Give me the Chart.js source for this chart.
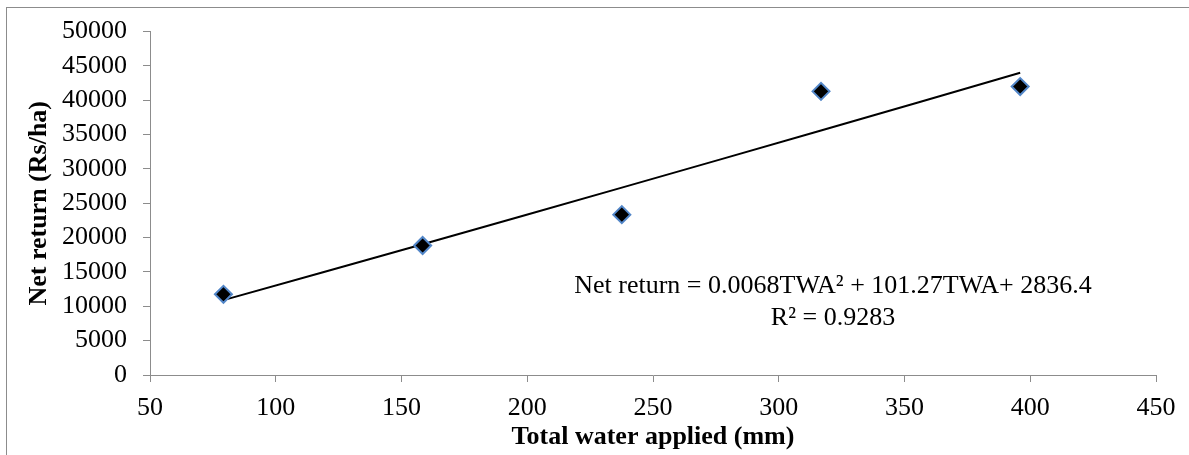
<!DOCTYPE html>
<html>
<head>
<meta charset="utf-8">
<script src="https://cdn.jsdelivr.net/npm/chart.js@4.4.0/dist/chart.umd.min.js"></script>
<style>
  html, body { margin: 0; padding: 0; background: #fff; }
  #wrap { position: relative; width: 1189px; height: 455px; overflow: hidden; }
  #frame { position: absolute; left: 6px; top: 7px; width: 1300px; height: 600px; border: 1px solid #8c8c8c; box-sizing: border-box; }
  canvas { position: absolute; left: 0; top: 0; }
</style>
</head>
<body>
<div id="wrap">
  <div id="frame"></div>
  <canvas id="scatterChart" width="1189" height="455"></canvas>
</div>
<script>
const waterApplied = [79.2, 158.4, 237.6, 316.8, 396];
const netReturn = [11750, 18850, 23350, 41300, 42000];
// polynomial trendline
const trendX = [79.2, 158.4, 237.6, 316.8, 396];
const trendY = [10900, 19050, 27280, 35600, 44000];
const xTicks = [50, 100, 150, 200, 250, 300, 350, 400, 450];
const yTicks = [0, 5000, 10000, 15000, 20000, 25000, 30000, 35000, 40000, 45000, 50000];

const FONT = "'Liberation Serif', 'Times New Roman', serif";
const FS = 26;
const axisGrey = "#8c8c8c";

const equationLabel = {
  id: "equationLabel",
  afterDraw(chart) {
    const ctx = chart.ctx;
    ctx.save();
    ctx.fillStyle = "#000";
    ctx.font = FS + "px " + FONT;
    ctx.textAlign = "center";
    ctx.textBaseline = "alphabetic";
    ctx.fillText("Net return = 0.0068TWA\u00B2 + 101.27TWA+ 2836.4", 833, 293);
    ctx.fillText("R\u00B2 = 0.9283", 833, 325);
    ctx.restore();
  }
};

const ctx = document.getElementById("scatterChart").getContext("2d");
new Chart(ctx, {
  type: "scatter",
  data: {
    datasets: [
      {
        label: "Trend",
        type: "line",
        data: trendX.map((x, i) => ({ x: x, y: trendY[i] })),
        borderColor: "#000",
        borderWidth: 2,
        pointRadius: 0,
        tension: 0.4,
        fill: false,
        order: 2
      },
      {
        label: "Net return",
        data: waterApplied.map((x, i) => ({ x: x, y: netReturn[i] })),
        pointStyle: "rectRot",
        pointRadius: 8.5,
        backgroundColor: "#000",
        borderColor: "#5286c8",
        borderWidth: 2,
        order: 1
      }
    ]
  },
  options: {
    responsive: false,
    animation: false,
    layout: { padding: { top: 31, right: 33, left: 0, bottom: 0 } },
    plugins: { legend: { display: false }, tooltip: { enabled: false } },
    scales: {
      x: {
        type: "linear",
        min: 50,
        max: 450,
        afterBuildTicks: (scale) => { scale.ticks = xTicks.map(v => ({ value: v })); },
        afterFit: (scale) => { scale.height = 80; },
        border: { display: true, color: axisGrey, width: 1 },
        grid: { drawOnChartArea: false, drawTicks: true, tickLength: 7, color: axisGrey },
        ticks: { color: "#000", font: { family: FONT, size: FS }, padding: 11, maxRotation: 0 },
        title: {
          display: true,
          text: "Total water applied (mm)",
          color: "#000",
          font: { family: FONT, size: FS, weight: "bold" },
          padding: { top: 0, bottom: 2 }
        }
      },
      y: {
        type: "linear",
        min: 0,
        max: 50000,
        afterBuildTicks: (scale) => { scale.ticks = yTicks.map(v => ({ value: v })); },
        afterFit: (scale) => { scale.width = 150; },
        border: { display: true, color: axisGrey, width: 1 },
        grid: { drawOnChartArea: false, drawTicks: true, tickLength: 7, color: axisGrey },
        ticks: { color: "#000", font: { family: FONT, size: FS }, padding: 16, callback: (v) => String(v) },
        title: {
          display: true,
          text: "Net return (Rs/ha)",
          color: "#000",
          font: { family: FONT, size: FS, weight: "bold" },
          padding: { top: 24, bottom: 0 }
        }
      }
    }
  },
  plugins: [equationLabel]
});
</script>
</body>
</html>
